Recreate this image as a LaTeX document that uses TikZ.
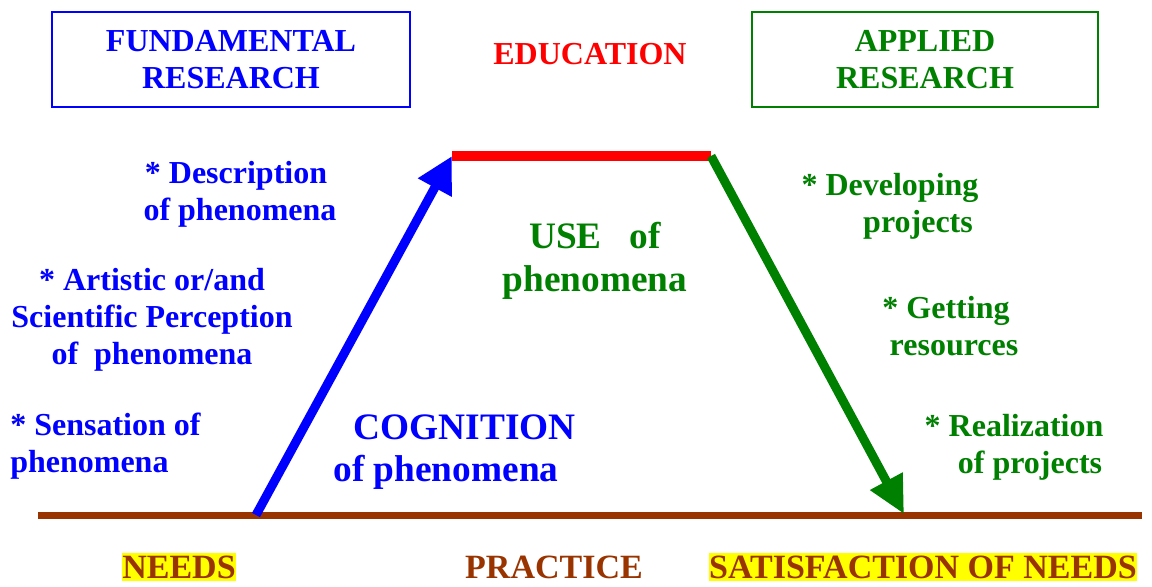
\documentclass[tikz,border=0pt]{standalone}
\usepackage{fontspec}
\setmainfont{Liberation Serif}
\usetikzlibrary{arrows.meta}
\definecolor{fundblue}{RGB}{0,0,255}
\definecolor{applgreen}{RGB}{0,128,0}
\definecolor{edured}{RGB}{255,0,0}
\definecolor{practbrown}{RGB}{153,51,0}
\definecolor{hilite}{RGB}{255,255,0}
\tikzset{
  headbox/.style={draw, line width=1.5pt, minimum width=268.5pt, minimum height=71.25pt, align=center, font=\fontsize{24}{27.75}\selectfont\bfseries},
  note/.style={align=center, inner sep=0.75pt, font=\fontsize{24}{27.75}\selectfont\bfseries},
  bignote/.style={align=center, inner sep=0.75pt, font=\fontsize{28}{32}\selectfont\bfseries},
  footnote/.style={inner xsep=0.5pt, inner ysep=2pt, font=\fontsize{25.5}{27}\selectfont\bfseries, text=practbrown},
}
\begin{document}
\begin{tikzpicture}[x=0.75pt,y=0.75pt,yscale=-1,xscale=1]
        \useasboundingbox (0,0) rectangle (1152,586);

        % Boxes
        \node [headbox, draw=fundblue, text=fundblue] (fundamental) at (231,59.5) {FUNDAMENTAL\\RESEARCH};
        \node [headbox, draw=applgreen, text=applgreen, minimum width=259.5pt] (applied) at (925,59.5) {APPLIED\\RESEARCH};
        % Text Node
        \node [note, text=edured] (education) at (590,54) {EDUCATION};

        % Corners of the path
        \coordinate (needpt) at (256,515);
        \coordinate (topleft) at (452,156);
        \coordinate (topright) at (711,156);
        \coordinate (satpt) at (904,514);
        \coordinate (baseleft) at (38,515);
        \coordinate (baseright) at (1142,515);

        %Straight Lines
        \draw [practbrown, line width=5.25pt] (baseleft) -- (baseright);
        \draw [edured, line width=7.5pt] (topleft) -- (topright);
        \draw [fundblue, line width=6.75pt, -{Triangle[length=27pt,width=27pt]}] (needpt) -- (topleft);
        \draw [applgreen, line width=6.75pt, -{Triangle[length=28pt,width=26pt]}] (topright) -- (satpt);

        % Left notes
        \node [note, text=fundblue] (descr) at (236,194) {* Description\\\ of phenomena};
        \node [note, text=fundblue] (percept) at (152,320) {* Artistic or/and\\Scientific Perception\\of\ \ phenomena};
        \node [note, text=fundblue, anchor=west, align=left] (sensation) at (9,446) {* Sensation of\\phenomena};
        \node [bignote, text=fundblue] (cognition) at (446,452) {\ \ \ \ COGNITION\\of phenomena};

        % Right notes
        \node [bignote, text=applgreen] (use) at (595,261) {USE\ \ \ of\\phenomena};
        \node [note, text=applgreen] (develop) at (890,206) {* Developing\\\ \ \ \ \ \ \ projects};
        \node [note, text=applgreen] (resources) at (946,326) {* Getting\\\ \ resources};
        \node [note, text=applgreen] (realize) at (1014,447) {* Realization\\\ \ \ \ of projects};

        % Bottom labels
        \node [footnote, fill=hilite] (needs) at (179,567) {NEEDS};
        \node [footnote] (practice) at (554,567) {PRACTICE};
        \node [footnote, fill=hilite] (satisfy) at (923,567) {SATISFACTION OF NEEDS};
\end{tikzpicture}
\end{document}
